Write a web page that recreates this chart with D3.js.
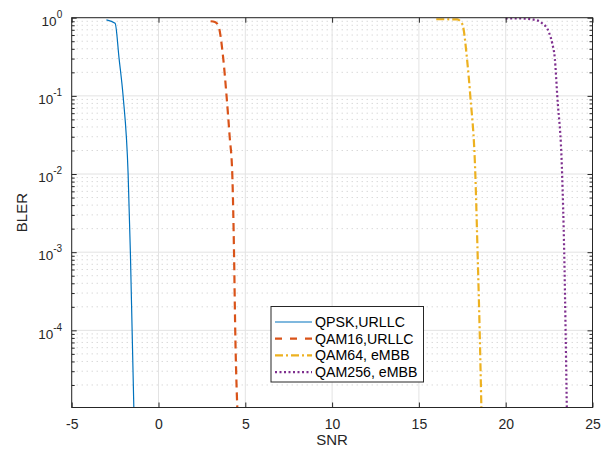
<!DOCTYPE html>
<html>
<head>
<meta charset="utf-8">
<script src="https://cdn.jsdelivr.net/npm/d3@7"></script>
<style>
  body { margin: 0; background: #fff; }
  svg { display: block; font-family: "Liberation Sans", Arial, Helvetica, sans-serif; }
</style>
</head>
<body>
<svg id="chart" width="602" height="450"></svg>
<script>
// ---- data ----
const xTicks = [-5, 0, 5, 10, 15, 20, 25];
const yExponents = [0, -1, -2, -3, -4];

const snrQPSK  = [-3.0, -2.5, -2.27, -2.04, -1.75, -1.62, -1.52, -1.42];
const blerQPSK = [0.94, 0.85, 0.3, 0.1, 0.01, 0.001, 0.0001, 0.00001];

const snrQAM16  = [3.0, 3.25, 3.44, 3.73, 3.92, 4.1, 4.25, 4.35, 4.42, 4.54];
const blerQAM16 = [0.9, 0.88, 0.8, 0.3, 0.1, 0.03, 0.01, 0.001, 0.0001, 0.00001];

const snrQAM64  = [16.0, 16.5, 17.0, 17.2, 17.5, 17.77, 17.96, 18.25, 18.38, 18.5, 18.6];
const blerQAM64 = [0.955, 0.955, 0.952, 0.95, 0.83, 0.3, 0.1, 0.01, 0.001, 0.0001, 0.00001];

const snrQAM256  = [20.0, 21.0, 21.75, 22.1, 22.48, 22.68, 22.83, 22.97, 23.25, 23.37, 23.45, 23.52];
const blerQAM256 = [0.98, 0.975, 0.93, 0.85, 0.66, 0.47, 0.3, 0.1, 0.01, 0.001, 0.0001, 0.00001];

const seriesNames = ["QPSK,URLLC", "QAM16,URLLC", "QAM64, eMBB", "QAM256, eMBB"];

// ---- layout ----
const L = 71.7, R = 592.5, T = 17.7, B = 407.5;
const svg = d3.select("#chart");
const x = d3.scaleLinear().domain([-5, 25]).range([L, R]);
const y = d3.scaleLog().domain([1.03e-5, 1]).range([B, T]);

const series = [
  { name: seriesNames[0], snr: snrQPSK, bler: blerQPSK, color: "#0072BD", width: 1.2, dash: null },
  { name: seriesNames[1], snr: snrQAM16, bler: blerQAM16, color: "#D95319", width: 2.2, dash: "8,5" },
  { name: seriesNames[2], snr: snrQAM64, bler: blerQAM64, color: "#EDB120", width: 2.2, dash: "8,3,2,3" },
  { name: seriesNames[3], snr: snrQAM256, bler: blerQAM256, color: "#7E2F8E", width: 2.2, dash: "2,2.5" }
];

svg.append("defs").append("clipPath").attr("id", "clip")
  .append("rect").attr("x", L).attr("y", T).attr("width", R - L).attr("height", B - T);

// minor y grid (dotted)
const minorVals = [];
for (let e = -5; e < 0; e++) for (let m = 2; m <= 9; m++) {
  const v = m * Math.pow(10, e);
  if (v >= y.domain()[0]) minorVals.push(v);
}
svg.append("g").selectAll("line").data(minorVals).join("line")
  .attr("x1", L).attr("x2", R)
  .attr("y1", d => y(d)).attr("y2", d => y(d))
  .attr("stroke", "#c8c8c8").attr("stroke-width", 1).attr("stroke-dasharray", "1,4");

// major grid
const majorY = yExponents.map(e => Math.pow(10, e));
svg.append("g").selectAll("line").data(majorY).join("line")
  .attr("x1", L).attr("x2", R)
  .attr("y1", d => y(d)).attr("y2", d => y(d))
  .attr("stroke", "#e3e3e3").attr("stroke-width", 1);
svg.append("g").selectAll("line").data(xTicks).join("line")
  .attr("x1", d => x(d)).attr("x2", d => x(d))
  .attr("y1", T).attr("y2", B)
  .attr("stroke", "#e3e3e3").attr("stroke-width", 1);

// series
const lineGen = d3.line().x(d => x(d[0])).y(d => y(d[1])).curve(d3.curveMonotoneX);
const plotG = svg.append("g").attr("clip-path", "url(#clip)");
series.forEach(s => {
  const pts = s.snr.map((v, i) => [v, s.bler[i]]);
  plotG.append("path").datum(pts)
    .attr("d", lineGen)
    .attr("fill", "none")
    .attr("stroke", s.color)
    .attr("stroke-width", s.width)
    .attr("stroke-dasharray", s.dash)
    .attr("stroke-linejoin", "round");
});

// axes box
const axisColor = "#262626";
svg.append("rect").attr("x", L).attr("y", T).attr("width", R - L).attr("height", B - T)
  .attr("fill", "none").attr("stroke", axisColor).attr("stroke-width", 1);

// x ticks (inside, bottom and top)
const xAxisB = d3.axisBottom(x).tickValues(xTicks).tickSize(-5).tickFormat(d3.format("d"));
const gxb = svg.append("g").attr("transform", `translate(0,${B})`).call(xAxisB);
gxb.select(".domain").remove();
gxb.selectAll(".tick line").attr("stroke", axisColor);
gxb.selectAll(".tick text").attr("fill", "#262626").attr("font-size", 14)
  .attr("y", 0).attr("dy", 0).attr("transform", "translate(0,21)")
  .text(d => d < 0 ? "-" + Math.abs(d) : d);
const xAxisT = d3.axisTop(x).tickValues(xTicks).tickSize(-5).tickFormat("");
const gxt = svg.append("g").attr("transform", `translate(0,${T})`).call(xAxisT);
gxt.select(".domain").remove();
gxt.selectAll(".tick line").attr("stroke", axisColor);

// y ticks: major and minor, left and right
const yAxisL = d3.axisLeft(y).tickValues(majorY).tickSize(-5).tickFormat("");
const gyl = svg.append("g").attr("transform", `translate(${L},0)`).call(yAxisL);
gyl.select(".domain").remove();
gyl.selectAll(".tick line").attr("stroke", axisColor);
const yAxisLm = d3.axisLeft(y).tickValues(minorVals).tickSize(-3).tickFormat("");
const gylm = svg.append("g").attr("transform", `translate(${L},0)`).call(yAxisLm);
gylm.select(".domain").remove();
gylm.selectAll(".tick line").attr("stroke", axisColor);
const yAxisR = d3.axisRight(y).tickValues(majorY).tickSize(-5).tickFormat("");
const gyr = svg.append("g").attr("transform", `translate(${R},0)`).call(yAxisR);
gyr.select(".domain").remove();
gyr.selectAll(".tick line").attr("stroke", axisColor);
const yAxisRm = d3.axisRight(y).tickValues(minorVals).tickSize(-3).tickFormat("");
const gyrm = svg.append("g").attr("transform", `translate(${R},0)`).call(yAxisRm);
gyrm.select(".domain").remove();
gyrm.selectAll(".tick line").attr("stroke", axisColor);

// y tick labels 10^e
const yl = svg.append("g").selectAll("text").data(yExponents).join("text")
  .attr("x", L - 9.5)
  .attr("y", e => y(Math.pow(10, e)) + 8.3)
  .attr("text-anchor", "end")
  .attr("fill", "#262626")
  .attr("font-size", 13.5);
yl.append("tspan").text("10");
yl.append("tspan").attr("dy", -8).attr("font-size", 10).text(e => e < 0 ? "-" + Math.abs(e) : e);

// axis labels
svg.append("text").attr("x", (L + R) / 2).attr("y", 445)
  .attr("text-anchor", "middle").attr("fill", "#262626").attr("font-size", 15).text("SNR");
svg.append("text").attr("transform", `translate(27,${(T + B) / 2}) rotate(-90)`)
  .attr("text-anchor", "middle").attr("fill", "#262626").attr("font-size", 15).text("BLER");

// legend
const lg = svg.append("g");
lg.append("rect").attr("x", 271).attr("y", 306.5).attr("width", 152.5).attr("height", 75.5)
  .attr("fill", "#fff").attr("stroke", "#262626").attr("stroke-width", 1);
series.forEach((s, i) => {
  const yy = 322 + i * 16.7;
  lg.append("line").attr("x1", 275).attr("x2", 312).attr("y1", yy).attr("y2", yy)
    .attr("stroke", s.color).attr("stroke-width", s.width)
    .attr("stroke-dasharray", i === 1 ? "7,8" : s.dash);
  lg.append("text").attr("x", 315).attr("y", yy + 5).attr("fill", "#000")
    .attr("font-size", 14.2).text(s.name);
});
</script>
</body>
</html>
